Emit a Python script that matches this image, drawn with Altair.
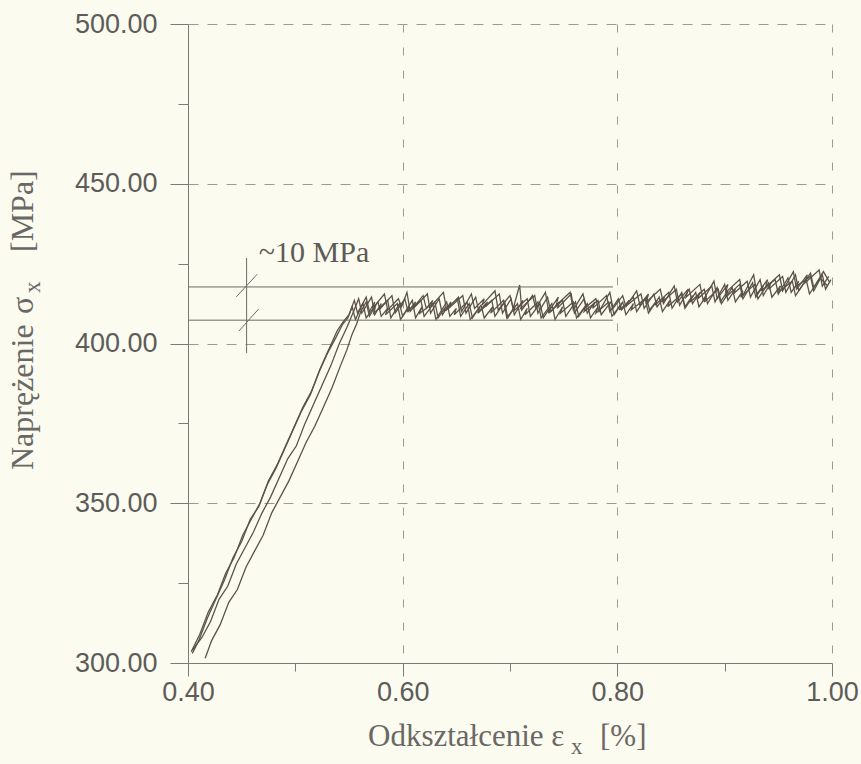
import altair as alt
import pandas as pd

# ---------------- data ----------------
A_X = [0.403, 0.411, 0.419, 0.427, 0.435, 0.443, 0.451, 0.459, 0.467, 0.475, 0.483, 0.491, 0.499, 0.507, 0.515, 0.523, 0.531, 0.539, 0.545, 0.550,
       0.555, 0.558, 0.566, 0.569, 0.574, 0.572, 0.583, 0.586, 0.596, 0.599,
       0.604, 0.607, 0.619, 0.622, 0.628, 0.626, 0.638, 0.641, 0.652, 0.655,
       0.664, 0.667, 0.676, 0.674, 0.686, 0.689, 0.700, 0.703, 0.709, 0.711,
       0.721, 0.724, 0.733, 0.736, 0.745, 0.743, 0.756, 0.759, 0.768, 0.771,
       0.780, 0.783, 0.793, 0.796, 0.805, 0.808, 0.818, 0.821, 0.829, 0.827,
       0.840, 0.843, 0.853, 0.856, 0.866, 0.864, 0.877, 0.880, 0.890, 0.893,
       0.903, 0.901, 0.914, 0.917, 0.927, 0.930, 0.940, 0.938, 0.951, 0.954,
       0.964, 0.967, 0.977, 0.975, 0.988, 0.991, 0.997]
A_Y = [303.5, 309, 316, 321, 328, 333, 340, 345, 350, 357, 362, 368, 374, 380, 385, 392, 398, 404, 407, 409,
       413.5, 409.5, 414.5, 410.0, 413.0, 411.0, 415.5, 410.5, 414.0, 411.5,
       416.0, 410.0, 415.0, 411.0, 413.5, 411.5, 416.0, 410.5, 414.5, 410.0,
       415.5, 411.0, 414.0, 412.0, 416.5, 410.5, 415.0, 411.0, 418.3, 410.5,
       415.0, 411.0, 416.0, 410.0, 414.5, 412.0, 416.0, 410.5, 415.5, 411.5,
       414.0, 410.0, 416.0, 411.0, 415.0, 411.5, 416.5, 412.0, 415.5, 413.0,
       417.0, 412.5, 418.0, 413.0, 417.0, 414.5, 418.5, 413.5, 419.5, 414.0,
       418.5, 416.0, 420.0, 415.0, 421.5, 415.5, 420.0, 417.5, 421.5, 416.5,
       422.5, 417.0, 421.5, 419.0, 423.0, 418.0, 421.0]

B_X = [0.404, 0.410, 0.418, 0.426, 0.434, 0.442, 0.450, 0.458, 0.466, 0.474, 0.482, 0.490, 0.498, 0.506, 0.514, 0.522, 0.530, 0.538, 0.544, 0.549,
       0.553, 0.556, 0.563, 0.566, 0.577, 0.580, 0.586, 0.584, 0.595, 0.598,
       0.609, 0.612, 0.618, 0.616, 0.628, 0.631, 0.641, 0.644, 0.650, 0.648,
       0.660, 0.663, 0.673, 0.676, 0.684, 0.682, 0.694, 0.697, 0.707, 0.710,
       0.716, 0.714, 0.726, 0.729, 0.739, 0.742, 0.749, 0.747, 0.759, 0.762,
       0.772, 0.775, 0.782, 0.780, 0.792, 0.795, 0.805, 0.808, 0.815, 0.813,
       0.826, 0.829, 0.839, 0.842, 0.849, 0.847, 0.860, 0.863, 0.873, 0.876,
       0.883, 0.881, 0.894, 0.897, 0.907, 0.910, 0.917, 0.915, 0.928, 0.931,
       0.941, 0.944, 0.952, 0.950, 0.963, 0.966, 0.976, 0.979, 0.989, 0.996]
B_Y = [303, 307, 314, 320, 326, 333, 338, 345, 349, 356, 361, 367, 373, 379, 384, 391, 397, 402, 406, 408,
       411.5, 407.5, 412.5, 408.0, 413.0, 408.5, 411.0, 409.0, 412.5, 407.5,
       413.5, 408.0, 411.5, 409.5, 412.5, 407.5, 413.0, 408.5, 411.0, 409.0,
       413.0, 407.5, 412.0, 408.0, 411.5, 409.5, 413.5, 408.0, 412.5, 407.5,
       411.0, 409.0, 413.0, 408.0, 412.5, 407.5, 411.5, 409.5, 413.0, 408.0,
       412.5, 408.0, 411.5, 409.5, 413.0, 408.5, 413.0, 409.0, 412.5, 410.5,
       414.0, 409.5, 414.5, 410.0, 413.5, 411.5, 415.5, 411.0, 416.0, 411.5,
       415.0, 413.0, 417.0, 412.5, 417.5, 413.0, 416.5, 414.5, 418.5, 414.0,
       419.0, 414.5, 418.0, 416.0, 419.5, 415.0, 420.0, 415.5, 420.5, 418.0]

C_X = [0.404, 0.413, 0.421, 0.429, 0.437, 0.445, 0.453, 0.461, 0.469, 0.477, 0.485, 0.493, 0.501, 0.509, 0.517, 0.525, 0.533, 0.541, 0.548, 0.553,
       0.559, 0.562, 0.571, 0.574, 0.580, 0.578, 0.590, 0.593, 0.602, 0.605,
       0.612, 0.610, 0.623, 0.626, 0.634, 0.637, 0.645, 0.643, 0.656, 0.659,
       0.668, 0.671, 0.679, 0.677, 0.690, 0.693, 0.701, 0.704, 0.712, 0.710,
       0.723, 0.726, 0.735, 0.738, 0.746, 0.744, 0.757, 0.760, 0.769, 0.772,
       0.779, 0.777, 0.790, 0.793, 0.801, 0.804, 0.811, 0.809, 0.822, 0.825,
       0.834, 0.837, 0.844, 0.842, 0.855, 0.858, 0.867, 0.870, 0.877, 0.875,
       0.888, 0.891, 0.900, 0.903, 0.910, 0.908, 0.921, 0.924, 0.933, 0.936,
       0.943, 0.941, 0.954, 0.957, 0.966, 0.969, 0.980, 0.983, 0.992, 0.998]
C_Y = [304, 308, 313, 320, 324, 331, 336, 341, 347, 352, 358, 364, 368, 375, 381, 387, 393, 400, 405, 409,
       414.0, 409.5, 414.5, 409.0, 412.5, 410.5, 415.0, 409.5, 414.0, 410.0,
       413.0, 411.0, 415.5, 409.5, 414.0, 409.0, 413.0, 411.0, 415.0, 409.5,
       414.5, 410.0, 413.0, 411.5, 415.5, 409.5, 414.0, 409.0, 413.5, 411.0,
       415.0, 409.5, 414.5, 410.0, 413.0, 411.0, 415.5, 409.5, 414.0, 409.5,
       413.0, 411.0, 415.0, 410.0, 414.0, 410.5, 413.5, 412.0, 415.5, 411.0,
       415.5, 411.5, 414.5, 413.0, 417.0, 412.0, 417.0, 412.5, 416.0, 414.0,
       418.0, 413.0, 418.5, 413.5, 417.0, 415.5, 419.5, 414.5, 420.0, 415.0,
       419.0, 417.0, 421.0, 416.0, 421.5, 416.5, 422.0, 417.5, 422.5, 419.0]

D_X = [0.416, 0.422, 0.430, 0.438, 0.446, 0.454, 0.462, 0.470, 0.478, 0.486, 0.494, 0.502, 0.510, 0.518, 0.526, 0.534, 0.542, 0.548, 0.553, 0.557, 0.561,
       0.566, 0.569, 0.575, 0.573, 0.586, 0.589, 0.597, 0.600, 0.606, 0.604,
       0.617, 0.620, 0.630, 0.633, 0.640, 0.638, 0.651, 0.654, 0.662, 0.665,
       0.672, 0.670, 0.683, 0.686, 0.695, 0.698, 0.705, 0.703, 0.716, 0.719,
       0.728, 0.731, 0.738, 0.736, 0.749, 0.752, 0.761, 0.764, 0.771, 0.769,
       0.782, 0.785, 0.794, 0.797, 0.804, 0.802, 0.815, 0.818, 0.827, 0.830,
       0.837, 0.835, 0.848, 0.851, 0.860, 0.863, 0.870, 0.868, 0.881, 0.884,
       0.893, 0.896, 0.903, 0.901, 0.914, 0.917, 0.926, 0.929, 0.936, 0.934,
       0.947, 0.950, 0.959, 0.962, 0.969, 0.967, 0.980, 0.983, 0.991, 0.994, 0.999]
D_Y = [301.5, 307, 312, 319, 323, 330, 335, 340, 347, 352, 357, 363, 369, 374, 380, 386, 393, 398, 403, 406, 410,
       413.0, 408.5, 412.0, 409.5, 413.5, 408.0, 412.5, 408.5, 411.5, 410.0,
       413.5, 408.5, 413.0, 408.0, 411.5, 410.0, 414.0, 408.5, 412.5, 408.0,
       411.5, 409.5, 413.5, 408.5, 413.0, 408.0, 412.0, 410.0, 414.0, 408.5,
       412.5, 408.0, 411.5, 409.5, 413.5, 408.5, 413.0, 408.5, 412.0, 410.0,
       413.5, 409.0, 413.0, 409.0, 412.5, 410.5, 414.5, 410.0, 414.5, 410.5,
       413.5, 412.0, 416.0, 411.0, 416.0, 411.5, 415.0, 413.0, 417.0, 412.5,
       417.5, 413.0, 416.5, 414.5, 418.5, 414.0, 419.0, 414.5, 418.0, 416.5,
       420.0, 415.5, 420.5, 416.0, 419.5, 418.0, 421.0, 416.5, 421.5, 417.0, 420.0]

# ~10 MPa annotation
BAND_Y = [417.7, 407.3]
BAND_X = [0.40, 0.796]
MARK_X = 0.4546
MARK_Y = [397.0, 426.8]
SLASH_X1 = [0.4450, 0.4474]
SLASH_Y1 = [414.6, 403.9]
SLASH_X2 = [0.4645, 0.4658]
SLASH_Y2 = [421.7, 410.8]
NOTE_X = 0.466
NOTE_Y = 425.6
NOTE_TEXT = "~10 MPa"

X_TICKS = [0.4, 0.5, 0.6, 0.7, 0.8, 0.9, 1.0]
Y_TICKS = [300, 325, 350, 375, 400, 425, 450, 475, 500]

# ---------------- build tables ----------------
rows = []
for name, xs, ys in [("A", A_X, A_Y), ("B", B_X, B_Y), ("C", C_X, C_Y), ("D", D_X, D_Y)]:
    assert len(xs) == len(ys), name
    for i, (x, y) in enumerate(zip(xs, ys)):
        rows.append({"curve": name, "i": i, "x": x, "y": y})
curves = pd.DataFrame(rows)

band = pd.DataFrame({"x": [BAND_X[0]] * 2, "x2": [BAND_X[1]] * 2, "y": BAND_Y})
vmark = pd.DataFrame({"x": [MARK_X], "y": [MARK_Y[0]], "y2": [MARK_Y[1]]})
slashes = pd.DataFrame({"x": SLASH_X1, "y": SLASH_Y1, "x2": SLASH_X2, "y2": SLASH_Y2})
note = pd.DataFrame({"x": [NOTE_X], "y": [NOTE_Y], "t": [NOTE_TEXT]})

BG = "#fcfbef"
INK = "#5b5248"
AXIS_C = "#7a7a76"
GRID_C = "#9a9a96"
LABEL_C = "#5c5c5a"
TITLE_C = "#6a6866"
SERIF = "Liberation Serif"
SANS = "Liberation Sans"

xscale = alt.Scale(domain=[0.4, 1.0], nice=False, zero=False)
yscale = alt.Scale(domain=[300, 500], nice=False, zero=False)

x_axis = alt.Axis(
    title=None, values=X_TICKS,
    labelExpr="round(datum.value*10) % 2 == 0 ? format(datum.value, '.2f') : ''",
    tickSize={"condition": {"test": "round(datum.value*10) % 2 == 0", "value": 13}, "value": 8},
    gridOpacity={"condition": {"test": "round(datum.value*10) % 2 == 0", "value": 1}, "value": 0},
    grid=True, gridDash=[8, 15], gridColor=GRID_C, gridWidth=1,
    domainColor=AXIS_C, tickColor=AXIS_C, labelColor=LABEL_C, labelFont=SANS,
    labelFontSize=27, labelPadding=3, labelFlush=False, labelOverlap=False,
)
y_axis = alt.Axis(
    title=None, values=Y_TICKS,
    labelExpr="datum.value % 50 == 0 ? format(datum.value, '.2f') : ''",
    tickSize={"condition": {"test": "datum.value % 50 == 0", "value": 18}, "value": 10},
    gridOpacity={"condition": {"test": "datum.value % 50 == 0", "value": 1}, "value": 0},
    grid=True, gridDash=[10, 9], gridColor=GRID_C, gridWidth=1,
    domainColor=AXIS_C, tickColor=AXIS_C, labelColor=LABEL_C, labelFont=SANS,
    labelFontSize=27, labelPadding=13, labelFlush=False, labelOverlap=False,
)

lines = alt.Chart(curves).mark_line(color=INK, strokeWidth=1.3, strokeJoin="miter").encode(
    x=alt.X("x:Q", scale=xscale, axis=x_axis),
    y=alt.Y("y:Q", scale=yscale, axis=y_axis),
    detail="curve:N",
    order="i:Q",
)

band_rules = alt.Chart(band).mark_rule(color="#6e6a64", strokeWidth=1).encode(
    x="x:Q", x2="x2:Q", y="y:Q")
v_rule = alt.Chart(vmark).mark_rule(color="#6e6a64", strokeWidth=1).encode(
    x="x:Q", y="y:Q", y2="y2:Q")
slash_rules = alt.Chart(slashes).mark_rule(color="#6e6a64", strokeWidth=1).encode(
    x="x:Q", y="y:Q", x2="x2:Q", y2="y2:Q")
note_text = alt.Chart(note).mark_text(
    font=SERIF, fontSize=30, color="#5e5a56", align="left", baseline="alphabetic"
).encode(x="x:Q", y="y:Q", text="t:N")

one = alt.Data(values=[{}])


def label(txt, px, py, size, angle=0):
    kw = dict(text=txt, font=SERIF, fontSize=size, color=TITLE_C, align="left", baseline="alphabetic")
    if angle:
        kw["angle"] = angle
    return alt.Chart(one).mark_text(**kw).encode(x=alt.value(px), y=alt.value(py))


# x title: "Odkształcenie ε_x [%]"
xt1 = label("Odkształcenie ε", 180, 722, 31)
xt2 = label("x", 383, 730, 23)
xt3 = label("[%]", 412, 722, 31)
# y title: "Naprężenie σ_x [MPa]"
yt1 = label("Naprężenie", -155, 446, 32, 270)
yt2 = label("σ", -155, 290, 32, 270)
yt3 = label("x", -148, 269, 23, 270)
yt4 = label("[MPa]", -155, 228, 32, 270)

chart = alt.layer(
    lines, band_rules, v_rule, slash_rules, note_text,
    xt1, xt2, xt3, yt1, yt2, yt3, yt4,
).properties(
    width=644, height=639,
    padding={"left": 188, "top": 24, "right": 29, "bottom": 101},
    autosize=alt.AutoSizeParams(type="none"),
    background=BG,
).configure_view(stroke=None)

chart.save("out.html", embed_options={"renderer": "svg", "actions": False})
